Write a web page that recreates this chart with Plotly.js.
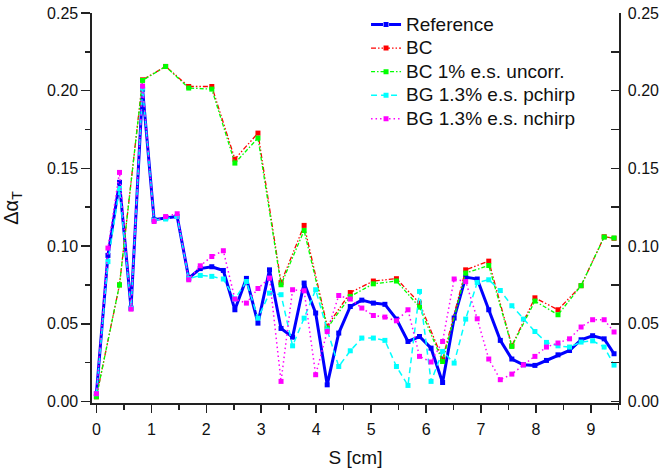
<!DOCTYPE html>
<html>
<head>
<meta charset="utf-8">
<script src="https://cdn.plot.ly/plotly-3.0.1.min.js"></script>
<style>html,body{margin:0;padding:0;background:#fff;}#chart{width:661px;height:470px;}</style>
</head>
<body>
<div id="chart"></div>
<script>
// S positions [cm]
var sAll = [0, 0.21, 0.42, 0.63, 0.84, 1.05, 1.26, 1.47, 1.68, 1.89, 2.10, 2.31, 2.52, 2.73, 2.94, 3.15,
  3.36, 3.57, 3.78, 3.99, 4.20, 4.41, 4.62, 4.83, 5.04, 5.25, 5.46, 5.67, 5.88, 6.09, 6.30, 6.51,
  6.72, 6.93, 7.14, 7.35, 7.56, 7.77, 7.98, 8.19, 8.40, 8.61, 8.82, 9.03, 9.24, 9.42];
var sBC = [0, 0.42, 0.84, 1.26, 1.68, 2.10, 2.52, 2.94, 3.36, 3.78, 4.20, 4.62, 5.04, 5.46, 5.88, 6.30,
  6.72, 7.14, 7.56, 7.98, 8.40, 8.82, 9.24, 9.42];

var reference = [0.005, 0.094, 0.141, 0.060, 0.201, 0.117, 0.118, 0.119, 0.0794, 0.0855, 0.0867, 0.0843,
  0.059, 0.0792, 0.0504, 0.0847, 0.047, 0.0414, 0.0762, 0.0569, 0.0107, 0.044, 0.0611, 0.0652, 0.0633,
  0.0625, 0.053, 0.0386, 0.0418, 0.0343, 0.0122, 0.0537, 0.080, 0.0788, 0.059, 0.0393, 0.0273, 0.0236,
  0.0232, 0.0264, 0.030, 0.0328, 0.0397, 0.0423, 0.0403, 0.0307];
var bc = [0.003, 0.075, 0.207, 0.2156, 0.2027, 0.2027, 0.156, 0.1727, 0.0765, 0.1133, 0.0485, 0.0701,
  0.0775, 0.079, 0.0633, 0.0273, 0.0847, 0.0903, 0.0358, 0.0667, 0.059, 0.0745, 0.106, 0.105];
var bcUncorr = [0.003, 0.075, 0.2066, 0.2156, 0.2017, 0.201, 0.1534, 0.1695, 0.0751, 0.110, 0.0472, 0.0676,
  0.0757, 0.0775, 0.0607, 0.0257, 0.0826, 0.0875, 0.0354, 0.0646, 0.0558, 0.0745, 0.1058, 0.1052];
var bgP = [0.005, 0.090, 0.137, 0.060, 0.2017, 0.1166, 0.1174, 0.119, 0.079, 0.0811, 0.0805, 0.0788,
  0.0659, 0.0772, 0.0536, 0.0697, 0.0687, 0.0358, 0.0536, 0.0719, 0.046, 0.0225, 0.0326, 0.0408, 0.0408,
  0.0393, 0.0225, 0.0103, 0.0708, 0.0129, 0.0322, 0.0247, 0.053, 0.0766, 0.0783, 0.0714, 0.0616, 0.053,
  0.045, 0.038, 0.0358, 0.035, 0.0382, 0.039, 0.035, 0.0234];
var bgN = [0.005, 0.0987, 0.1474, 0.0594, 0.203, 0.1158, 0.119, 0.1208, 0.0783, 0.0873, 0.0933, 0.097,
  0.0659, 0.0633, 0.0727, 0.0794, 0.0129, 0.0719, 0.0712, 0.0172, 0.045, 0.0682, 0.0659, 0.0601, 0.0553,
  0.0543, 0.0519, 0.059, 0.029, 0.0254, 0.0386, 0.0788, 0.0772, 0.0532, 0.0273, 0.014, 0.0176, 0.0236,
  0.029, 0.035, 0.0376, 0.0403, 0.0479, 0.0526, 0.0526, 0.0447];

var names = ['Reference', 'BC', 'BC 1% e.s. uncorr.', 'BG 1.3% e.s. pchirp', 'BG 1.3% e.s. nchirp'];
var yTicks = [0, 0.05, 0.10, 0.15, 0.20, 0.25];
var xTicks = [0, 1, 2, 3, 4, 5, 6, 7, 8, 9];

function big(t) { return '<span style="font-size:19px">' + t + '</span>'; }

var traces = [
  {x: sAll, y: reference, mode: 'lines+markers', showlegend: false,
   line: {color: '#0000ff', width: 3}, marker: {symbol: 'square', size: 5, color: '#0000ff'}},
  {x: sBC, y: bc, name: big(names[1]), mode: 'lines+markers', legendrank: 2,
   line: {color: '#ff0000', width: 1.3, dash: '5px,2px,1.5px,2px,1.5px,2px'},
   marker: {symbol: 'square', size: 5, color: '#ff0000'}},
  {x: sBC, y: bcUncorr, name: big(names[2]), mode: 'lines+markers', legendrank: 3,
   line: {color: '#00ff00', width: 1.3, dash: '4px,2px,1.5px,2px'},
   marker: {symbol: 'square', size: 5, color: '#00ff00'}},
  {x: sAll, y: bgP, name: big(names[3]), mode: 'lines+markers', legendrank: 4,
   line: {color: '#00ffff', width: 1.5, dash: '6px,4px'},
   marker: {symbol: 'square', size: 5, color: '#00ffff'}},
  {x: sAll, y: bgN, name: big(names[4]), mode: 'lines+markers', legendrank: 5,
   line: {color: '#ff00ff', width: 1.5, dash: '1.5px,3px'},
   marker: {symbol: 'square', size: 5, color: '#ff00ff'}},
  {x: [null], y: [null], name: big(names[0]), mode: 'lines+markers', legendrank: 1, yaxis: 'y2',
   line: {color: '#0000ff', width: 3, dash: '12px,6px'},
   marker: {symbol: 'square', size: 5, color: '#0000ff'}}
];

var axisCommon = {
  showline: true, linecolor: '#222', linewidth: 1.6, showgrid: false, zeroline: false,
  tickcolor: '#222', tickwidth: 1.6, tickfont: {family: 'Liberation Sans, Arial, sans-serif', size: 16, color: '#111'}
};

var layout = {
  width: 661, height: 470,
  margin: {l: 92, r: 42, t: 13, b: 67, autoexpand: false},
  paper_bgcolor: '#fff', plot_bgcolor: '#fff',
  font: {family: 'Liberation Sans, Arial, sans-serif', color: '#111'},
  showlegend: true,
  legend: {x: 0.52, xanchor: 'left', y: 1.0133, yanchor: 'top', bgcolor: 'rgba(0,0,0,0)',
    font: {size: 15.8, family: 'Liberation Sans, Arial, sans-serif', color: '#111'}, tracegroupgap: 0},
  xaxis: Object.assign({}, axisCommon, {
    range: [-0.08, 9.51], tickvals: xTicks, ticktext: xTicks.map(String), ticks: 'outside', ticklen: 8,
    ticklabelstandoff: 3,
    minor: {dtick: 0.5, tick0: 0, ticks: 'outside', ticklen: 5, tickwidth: 1.6, tickcolor: '#222'},
    title: {text: 'S [cm]', font: {size: 19}, standoff: 14}
  }),
  yaxis: Object.assign({}, axisCommon, {
    range: [-0.001, 0.25], tickvals: yTicks, ticktext: yTicks.map(function(v){return v.toFixed(2);}),
    ticks: 'outside', ticklen: 9,
    minor: {dtick: 0.025, tick0: 0, ticks: 'outside', ticklen: 5, tickwidth: 1.6, tickcolor: '#222'},
    title: {text: 'Δα<sub>T</sub>', font: {size: 20}, standoff: 23}
  }),
  yaxis2: Object.assign({}, axisCommon, {
    overlaying: 'y', side: 'right', anchor: 'x',
    range: [-0.001, 0.25], tickvals: yTicks, ticktext: yTicks.map(function(v){return v.toFixed(2);}),
    ticks: 'inside', ticklen: 8, ticklabelstandoff: 4,
    minor: {dtick: 0.025, tick0: 0, ticks: 'inside', ticklen: 8, tickwidth: 1.6, tickcolor: '#222'}
  })
};

Plotly.newPlot('chart', traces, layout, {displayModeBar: false, staticPlot: true});
</script>
</body>
</html>
